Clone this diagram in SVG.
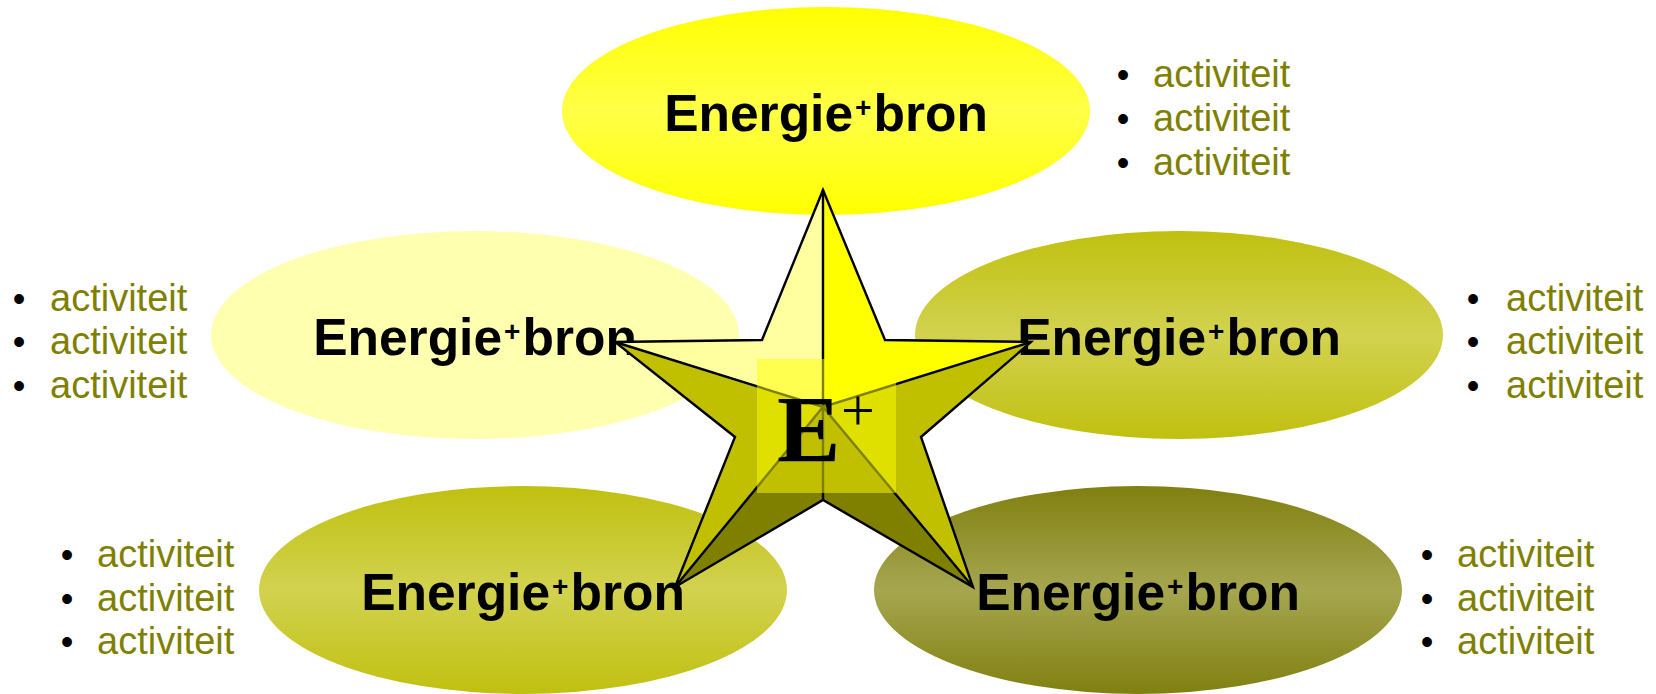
<svg xmlns="http://www.w3.org/2000/svg" width="1656" height="694" viewBox="0 0 1656 694">
<defs>
<linearGradient id="gTop" x1="0" y1="0" x2="0" y2="1">
<stop offset="0" stop-color="#FFFF00"/><stop offset="0.5" stop-color="#FFFF48"/><stop offset="1" stop-color="#FFFF00"/>
</linearGradient>
<linearGradient id="gOlive" x1="0" y1="0" x2="0" y2="1">
<stop offset="0" stop-color="#C0C010"/><stop offset="0.5" stop-color="#D2D250"/><stop offset="1" stop-color="#C0C010"/>
</linearGradient>
<linearGradient id="gDark" x1="0" y1="0" x2="0" y2="1">
<stop offset="0" stop-color="#808010"/><stop offset="0.5" stop-color="#A6A650"/><stop offset="1" stop-color="#808010"/>
</linearGradient>
</defs>
<style>
.lbl{font-family:"Liberation Sans",Arial,sans-serif;font-weight:bold;font-size:51.5px;fill:#000;text-anchor:middle}
.sup{font-size:28px}
.act{font-family:"Liberation Sans",Arial,sans-serif;font-size:38px;fill:#808000}
.bul{font-family:"Liberation Sans",Arial,sans-serif;font-size:36px;fill:#000;text-anchor:middle}
.facet{stroke:none}
.edge{fill:none;stroke:#000;stroke-width:2.4;stroke-linejoin:miter}
</style>
<rect width="1656" height="694" fill="#fff"/>

<g id="node-top">
<ellipse cx="826" cy="111" rx="264" ry="104" fill="url(#gTop)"/>
<text class="lbl" x="826" y="131">Energie<tspan class="sup" dx="2" dy="-14">+</tspan><tspan dx="2" dy="14">bron</tspan></text>
</g>
<g id="node-left">
<ellipse cx="475" cy="335" rx="264" ry="104" fill="#FFFFB0"/>
<text class="lbl" x="475" y="355">Energie<tspan class="sup" dx="2" dy="-14">+</tspan><tspan dx="2" dy="14">bron</tspan></text>
</g>
<g id="node-right">
<ellipse cx="1179" cy="335" rx="264" ry="104" fill="url(#gOlive)"/>
<text class="lbl" x="1179" y="355">Energie<tspan class="sup" dx="2" dy="-14">+</tspan><tspan dx="2" dy="14">bron</tspan></text>
</g>
<g id="node-bottom-left">
<ellipse cx="523" cy="590" rx="264" ry="104" fill="url(#gOlive)"/>
<text class="lbl" x="523" y="610">Energie<tspan class="sup" dx="2" dy="-14">+</tspan><tspan dx="2" dy="14">bron</tspan></text>
</g>
<g id="node-bottom-right">
<ellipse cx="1138" cy="590" rx="264" ry="104" fill="url(#gDark)"/>
<text class="lbl" x="1138" y="610">Energie<tspan class="sup" dx="2" dy="-14">+</tspan><tspan dx="2" dy="14">bron</tspan></text>
</g>

<g id="list-top">
<text class="bul" x="1123" y="87">•</text><text class="act" x="1153" y="87">activiteit</text>
<text class="bul" x="1123" y="131">•</text><text class="act" x="1153" y="131">activiteit</text>
<text class="bul" x="1123" y="175">•</text><text class="act" x="1153" y="175">activiteit</text>
</g>
<g id="list-left">
<text class="bul" x="19" y="311">•</text><text class="act" x="50" y="311">activiteit</text>
<text class="bul" x="19" y="354">•</text><text class="act" x="50" y="354">activiteit</text>
<text class="bul" x="19" y="398">•</text><text class="act" x="50" y="398">activiteit</text>
</g>
<g id="list-right">
<text class="bul" x="1473" y="311">•</text><text class="act" x="1506" y="311">activiteit</text>
<text class="bul" x="1473" y="354">•</text><text class="act" x="1506" y="354">activiteit</text>
<text class="bul" x="1473" y="398">•</text><text class="act" x="1506" y="398">activiteit</text>
</g>
<g id="list-bottom-left">
<text class="bul" x="67" y="567">•</text><text class="act" x="97" y="567">activiteit</text>
<text class="bul" x="67" y="611">•</text><text class="act" x="97" y="611">activiteit</text>
<text class="bul" x="67" y="654">•</text><text class="act" x="97" y="654">activiteit</text>
</g>
<g id="list-bottom-right">
<text class="bul" x="1427" y="567">•</text><text class="act" x="1457" y="567">activiteit</text>
<text class="bul" x="1427" y="611">•</text><text class="act" x="1457" y="611">activiteit</text>
<text class="bul" x="1427" y="654">•</text><text class="act" x="1457" y="654">activiteit</text>
</g>

<g id="star">
<polygon class="facet" fill="#FFFFA0" points="823,190 762,340 615,342 823,407"/>
<polygon class="facet" fill="#FFFF00" points="823,190 885,340 1031,342 823,407"/>
<polygon class="facet" fill="#C0C000" points="615,342 735,437 675,587 823,407"/>
<polygon class="facet" fill="#808000" points="675,587 823,500 823,407"/>
<polygon class="facet" fill="#808000" points="973,587 823,500 823,407"/>
<polygon class="facet" fill="#C0C000" points="1031,342 921,437 973,587 823,407"/>
<path class="edge" d="M823,190 L823,500 M615,342 L823,407 L1031,342 M675,587 L823,407 L973,587"/>
<polygon class="edge" points="823,190 885,340 1031,342 921,437 973,587 823,500 675,587 735,437 615,342 762,340"/>
<rect x="757" y="359" width="139" height="134" fill="#FFFF00" fill-opacity="0.5"/>
<text x="777" y="462" font-family="Liberation Serif,'Times New Roman',serif" font-weight="bold" font-size="95" fill="#000">E<tspan font-weight="normal" font-size="60" x="841" y="430">+</tspan></text>
</g>
</svg>
